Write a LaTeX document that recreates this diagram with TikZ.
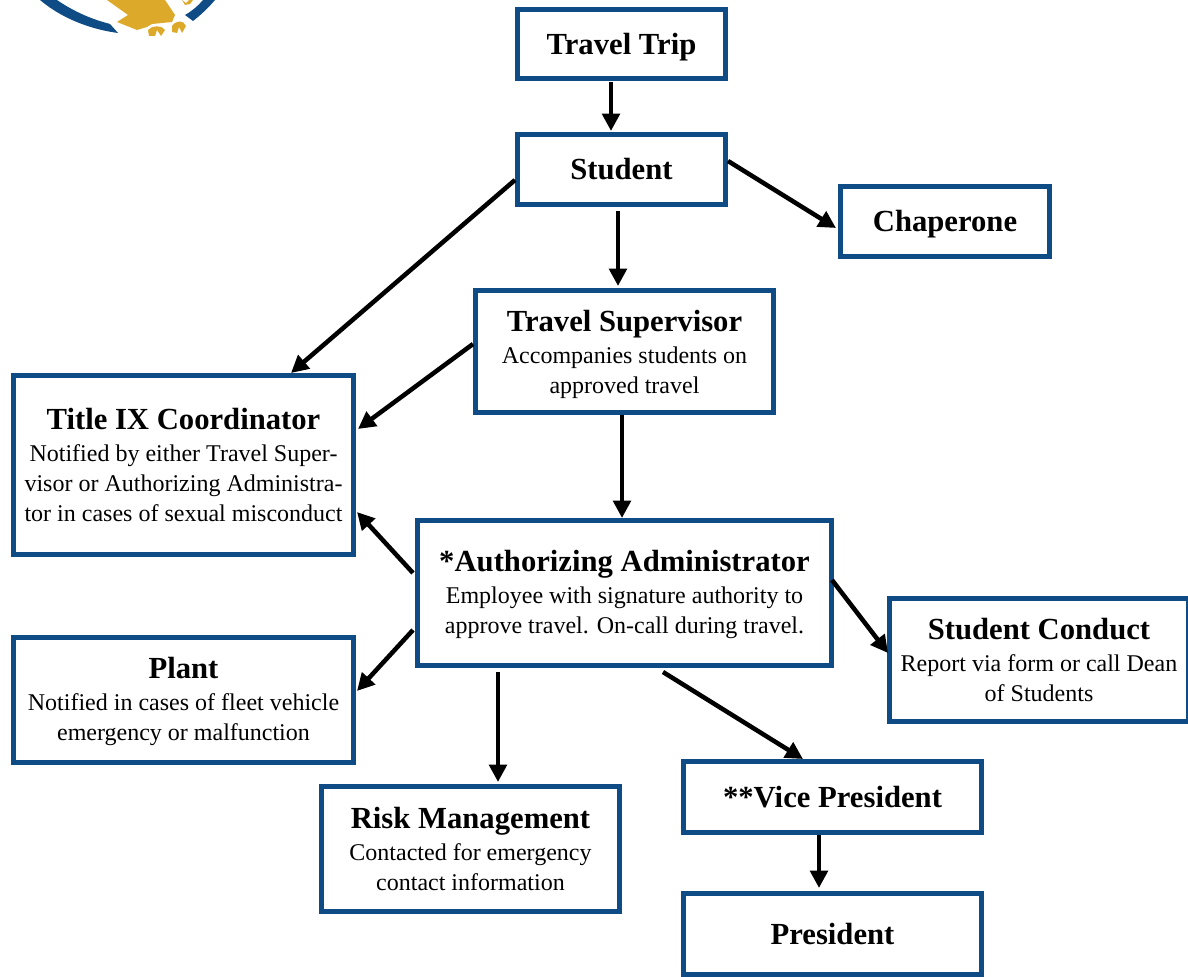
\documentclass[tikz,border=0pt]{standalone}
\usepackage{fontspec}
\setmainfont{Liberation Serif}
\usetikzlibrary{arrows.meta}
\definecolor{boxblue}{HTML}{0F4C85}
\definecolor{logogold}{HTML}{DDA92A}
\newcommand{\hd}[2][15.7pt]{{\fontsize{23}{26}\selectfont\bfseries\rule{0pt}{#1}#2}}
\newcommand{\bd}{\fontsize{18}{22.5}\selectfont}
\tikzset{
  box/.style={draw=boxblue,line width=3.75pt,fill=white,inner sep=0pt,align=center,text=black,font=\bd},
  sz/.style 2 args={minimum width=#1*0.75pt,minimum height=#2*0.75pt},
  conn/.style={line width=3.4pt,black,-{Triangle[length=13pt,width=13pt]}}
}
\begin{document}
\begin{tikzpicture}[x=0.75pt,y=-0.75pt]
\useasboundingbox (0,0) rectangle (1188,977);
\begin{scope}
\clip (0,0) rectangle (1188,977);
% logo fragment
\fill[boxblue] (40,0) .. controls (60,17) and (88,29) .. (118,33) -- (110,24) -- (103,22) .. controls (86,17) and (70,9) .. (57,0) -- cycle;
\fill[boxblue] (185,15) -- (193,21) .. controls (202,14) and (209,7) .. (215,0) -- (203,0) .. controls (198,6) and (192,11) .. (185,15) -- cycle;
\fill[logogold] (107,0) -- (128,15) -- (117,22) -- (137,30) -- (147,27) -- (152,24) -- (172,22) -- (175,15) -- (165,0) -- cycle;
\fill[logogold] (148,30) .. controls (152,25) and (162,25) .. (165,30) -- (161,36) -- (157,30) -- (155,36) -- (149,36) -- cycle;
\fill[logogold] (172,26) .. controls (176,20) and (184,20) .. (186,26) -- (182,33) -- (179,27) -- (177,33) -- (172,32) -- cycle;
\fill[logogold] (182,0) -- (186,3) -- (189,0) -- (193,0) -- (190,4) -- (185,5) -- cycle;

\node[box,sz={208}{69}] (trip) at (621.5,44) {\hd[20pt]{Travel Trip}};
\node[box,sz={208}{70}] (student) at (621.5,169.5) {\hd{Student}};
\node[box,sz={209}{70}] (chap) at (945,221.5) {\hd[20pt]{Chaperone}};
\node[box,sz={298}{122}] (sup) at (624.5,351.5) {\hd[20pt]{Travel Supervisor}\\[1.5pt]Accompanies students on\\approved travel};
\node[box,sz={340}{179}] (title) at (183.5,465) {\hd{Title IX Coordinator}\\[1.5pt]Notified by either Travel Super-\\visor or Authorizing Administra-\\tor in cases of sexual misconduct};
\node[box,sz={414}{145}] (auth) at (624.5,593) {\hd[18.7pt]{*Authorizing Administrator}\\[1.5pt]Employee with signature authority to\\approve travel. On-call during travel.};
\node[box,sz={340}{125}] (plant) at (183.5,700) {\hd[18.7pt]{Plant}\\[1.5pt]Notified in cases of fleet vehicle\\emergency or malfunction};
\node[box,sz={299}{123}] (conduct) at (1039,660) {\hd{Student Conduct}\\[1.5pt]Report via form or call Dean\\of Students};
\node[box,sz={298}{125}] (risk) at (470.5,849) {\hd{Risk Management}\\[1.5pt]Contacted for emergency\\contact information};
\node[box,sz={298}{71}] (vp) at (832.5,797) {\hd{**Vice President}};
\node[box,sz={298}{81}] (pres) at (832.5,934) {\hd{President}};

\draw[conn] ([shift={(-10.5,1)}]trip.south) -- ([shift={(-10.5,-1)}]student.north);
\draw[conn] ([shift={(-3.5,4)}]student.south) -- ([shift={(-6.5,-2)}]sup.north);
\draw[conn] ([shift={(0,-8.5)}]student.east) -- ([shift={(-2,6.5)}]chap.west);
\draw[conn] ([shift={(0,10.5)}]student.west) -- ([shift={(107.5,0)}]title.north);
\draw[conn] ([shift={(0,-7.5)}]sup.west) -- ([shift={(2,-36)}]title.east);
\draw[conn] ([shift={(-2.5,0)}]sup.south) -- ([shift={(-2.5,0)}]auth.north);
\draw[conn] ([shift={(-2,-20)}]auth.west) -- ([shift={(1,47)}]title.east);
\draw[conn] ([shift={(-2,37)}]auth.west) -- ([shift={(1,-9)}]plant.east);
\draw[conn] ([shift={(-126.5,4)}]auth.south) -- ([shift={(27.5,-2)}]risk.north);
\draw[conn] ([shift={(38.5,4)}]auth.south) -- ([shift={(-29.5,0)}]vp.north);
\draw[conn] ([shift={(-2,-13)}]auth.east) -- ([shift={(1,-7)}]conduct.west);
\draw[conn] ([shift={(-13.5,0)}]vp.south) -- ([shift={(-13.5,-3)}]pres.north);
\end{scope}
\end{tikzpicture}
\end{document}
